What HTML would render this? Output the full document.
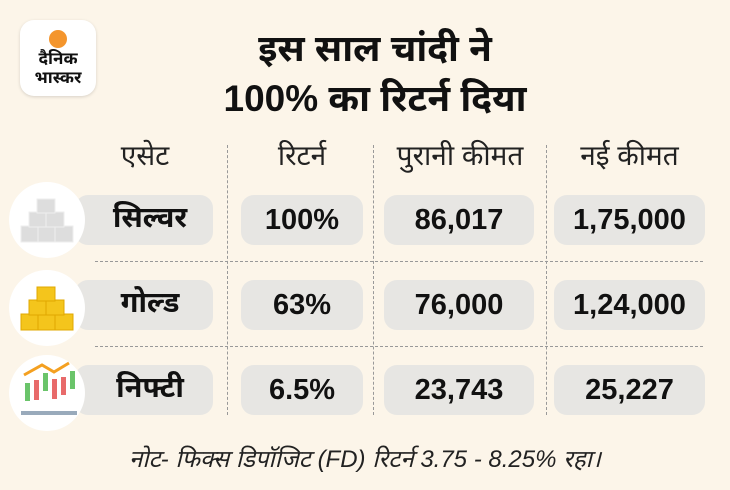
<!DOCTYPE html>
<html><head><meta charset="utf-8"><style>
*{margin:0;padding:0;box-sizing:border-box}
body{width:730px;height:490px;background:#fcf5e9;position:relative;overflow:hidden;font-family:"Liberation Sans","Noto Sans Devanagari","Lohit Devanagari",sans-serif;color:#111}
.a{position:absolute}
.pill{position:absolute;background:#e7e6e3;border-radius:13px;display:flex;align-items:center;justify-content:center;font-weight:bold;font-size:29px}
.h{position:absolute;top:140px;font-size:28px;text-align:center;color:#222}
.circ{position:absolute;width:76px;height:76px;border-radius:50%;background:#fff;left:9px}
.vl{position:absolute;top:145px;height:270px;border-left:1px dashed #999}
.hl{position:absolute;left:95px;width:608px;border-top:1px dashed #999}
</style></head><body>
<div class="a" style="left:20px;top:20px;width:76px;height:76px;background:#fff;border-radius:14px;box-shadow:0 1px 3px rgba(0,0,0,.15)">
<div class="a" style="left:29px;top:10px;width:18px;height:18px;border-radius:50%;background:#f4952c"></div>
<div class="a" style="left:0;top:29px;width:76px;text-align:center;font-weight:bold;font-size:17px;line-height:19px">दैनिक<br>भास्कर</div></div>
<div class="a" style="left:130px;top:24px;width:490px;text-align:center;font-weight:bold;font-size:37px;line-height:50px">इस साल चांदी ने<br>100% का रिटर्न दिया</div>
<div class="h" style="left:75px;width:140px">एसेट</div>
<div class="h" style="left:241px;width:122px">रिटर्न</div>
<div class="h" style="left:380px;width:160px">पुरानी कीमत</div>
<div class="h" style="left:554px;width:151px">नई कीमत</div>
<div class="vl" style="left:227px"></div><div class="vl" style="left:373px"></div><div class="vl" style="left:546px"></div>
<div class="hl" style="top:261px"></div><div class="hl" style="top:346px"></div>

<div class="pill" style="left:75px;top:195px;width:138px;height:50px;padding-left:12px">सिल्वर</div>
<div class="pill" style="left:241px;top:195px;width:122px;height:50px">100%</div>
<div class="pill" style="left:384px;top:195px;width:150px;height:50px">86,017</div>
<div class="pill" style="left:554px;top:195px;width:151px;height:50px">1,75,000</div>

<div class="pill" style="left:75px;top:280px;width:138px;height:50px;padding-left:12px">गोल्ड</div>
<div class="pill" style="left:241px;top:280px;width:122px;height:50px">63%</div>
<div class="pill" style="left:384px;top:280px;width:150px;height:50px">76,000</div>
<div class="pill" style="left:554px;top:280px;width:151px;height:50px">1,24,000</div>

<div class="pill" style="left:75px;top:365px;width:138px;height:50px;padding-left:12px">निफ्टी</div>
<div class="pill" style="left:241px;top:365px;width:122px;height:50px">6.5%</div>
<div class="pill" style="left:384px;top:365px;width:150px;height:50px">23,743</div>
<div class="pill" style="left:554px;top:365px;width:151px;height:50px">25,227</div>

<div class="circ" style="top:182px"><svg width="76" height="76"><g fill="#ddd" stroke="#eee"><rect x="12" y="44" width="18" height="16"/><rect x="29" y="44" width="18" height="16"/><rect x="46" y="44" width="18" height="16"/><rect x="20" y="30" width="18" height="15"/><rect x="37" y="30" width="18" height="15"/><rect x="28" y="17" width="18" height="14"/></g></svg></div>
<div class="circ" style="top:270px"><svg width="76" height="76"><g fill="#f4c51c" stroke="#e0a800"><rect x="12" y="44" width="18" height="16"/><rect x="29" y="44" width="18" height="16"/><rect x="46" y="44" width="18" height="16"/><rect x="20" y="30" width="18" height="15"/><rect x="37" y="30" width="18" height="15"/><rect x="28" y="17" width="18" height="14"/></g></svg></div>
<div class="circ" style="top:355px"><svg width="76" height="76"><polyline points="15,20 33,10 45,17 60,8" fill="none" stroke="#f4a020" stroke-width="3"/><g><rect x="16" y="28" width="5" height="18" fill="#6ac46a"/><rect x="25" y="25" width="5" height="20" fill="#e86a6a"/><rect x="34" y="18" width="5" height="18" fill="#6ac46a"/><rect x="43" y="24" width="5" height="20" fill="#e86a6a"/><rect x="52" y="22" width="5" height="18" fill="#e86a6a"/><rect x="61" y="16" width="5" height="18" fill="#6ac46a"/></g><rect x="12" y="56" width="56" height="4" fill="#9ab"/></svg></div>

<div class="a" style="left:0;top:445px;width:730px;text-align:center;font-style:italic;font-size:24px;color:#222">नोट- फिक्स डिपॉजिट (FD) रिटर्न 3.75 - 8.25% रहा।</div>
</body></html>
